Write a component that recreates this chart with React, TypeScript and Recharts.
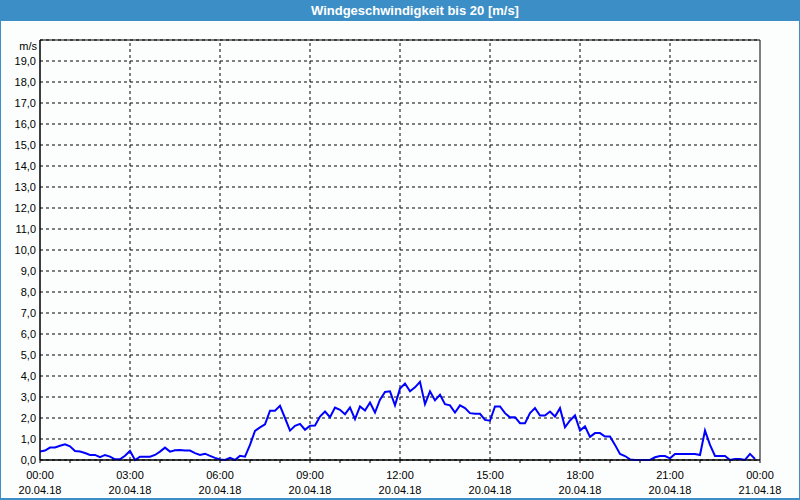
import { LineChart, Line, XAxis, YAxis, CartesianGrid, ReferenceLine, ReferenceArea } from 'recharts'

// wind speed in m/s, one value every 10 minutes from 20.04.18 00:00
const speeds = [
  0.4, 0.45, 0.59, 0.6, 0.68, 0.75, 0.65, 0.43, 0.4, 0.33, 0.24, 0.24,
  0.13, 0.24, 0.16, 0.03, 0.03, 0.2, 0.43, 0, 0.16, 0.16, 0.16, 0.24,
  0.4, 0.59, 0.4, 0.46, 0.48, 0.45, 0.45, 0.33, 0.24, 0.3, 0.2, 0.1,
  0.03, 0, 0.1, 0, 0.2, 0.16, 0.72, 1.39, 1.55, 1.7, 2.35, 2.35,
  2.58, 2.0, 1.4, 1.63, 1.72, 1.44, 1.63, 1.64, 2.07, 2.31, 2.04, 2.5,
  2.39, 2.18, 2.5, 1.95, 2.55, 2.36, 2.74, 2.26, 2.87, 3.24, 3.27, 2.6,
  3.4, 3.64, 3.27, 3.46, 3.72, 2.66, 3.27, 2.84, 3.11, 2.66, 2.6, 2.26,
  2.6, 2.47, 2.23, 2.2, 2.2, 1.91, 1.87, 2.55, 2.55, 2.23, 2.03, 2.04,
  1.75, 1.75, 2.23, 2.47, 2.12, 2.12, 2.31, 2.07, 2.47, 1.56, 1.88, 2.12,
  1.4, 1.6, 1.1, 1.28, 1.28, 1.12, 1.12, 0.72, 0.29, 0.19, 0.03, 0,
  0, 0, 0, 0.13, 0.19, 0.19, 0.08, 0.29, 0.29, 0.29, 0.29, 0.29,
  0.24, 1.4, 0.72, 0.19, 0.19, 0.19, 0, 0.05, 0.05, 0, 0.29, 0.05,
]
const STEP_MINUTES = 10

const hourTicks = [0, 60, 120, 180, 240, 300, 360, 420, 480, 540, 600, 660, 720, 780, 840, 900, 960, 1020, 1080, 1140, 1200, 1260, 1320, 1380, 1440]
const gridMinutes = [180, 360, 540, 720, 900, 1080, 1260]
const tickTimes: Record<number, string> = {
  0: '00:00', 180: '03:00', 360: '06:00', 540: '09:00', 720: '12:00',
  900: '15:00', 1080: '18:00', 1260: '21:00', 1440: '00:00',
}
const tickDates: Record<number, string> = {
  0: '20.04.18', 180: '20.04.18', 360: '20.04.18', 540: '20.04.18', 720: '20.04.18',
  900: '20.04.18', 1080: '20.04.18', 1260: '20.04.18', 1440: '21.04.18',
}
const yTicks = [0, 1, 2, 3, 4, 5, 6, 7, 8, 9, 10, 11, 12, 13, 14, 15, 16, 17, 18, 19]

const data = speeds.map((v, i) => ({ min: i * STEP_MINUTES, v }))

const FONT = '"Liberation Sans", Arial, sans-serif'
const BLUE = '#3c8fc6'

function TimeTick({ x, y, payload }: any) {
  const t = tickTimes[payload.value]
  if (!t) return null
  return (
    <g>
      <text x={x} y={y + 16} textAnchor="middle" fontSize={11} fontFamily={FONT} fill="#000">{t}</text>
      <text x={x} y={y + 31} textAnchor="middle" fontSize={11} fontFamily={FONT} fill="#000">{tickDates[payload.value]}</text>
    </g>
  )
}

export default function App() {
  return (
    <div style={{ position: 'absolute', left: 0, top: 0, width: 800, height: 500, background: '#fcfefd', overflow: 'hidden' }}>
      <LineChart width={800} height={500} data={data} margin={{ top: 40, right: 40, left: 0, bottom: 0 }}>
        <CartesianGrid vertical={false} stroke="#000" strokeDasharray="3 3" />
        {gridMinutes.map((m) => (
          <ReferenceLine key={m} x={m} stroke="#000" strokeDasharray="3 3" />
        ))}
        <ReferenceArea x1={0} x2={1440} y1={0} y2={20} fill="none" stroke="#000" strokeWidth={1} />
        <XAxis
          type="number"
          dataKey="min"
          domain={[0, 1440]}
          ticks={hourTicks}
          interval={0}
          height={40}
          tickSize={3}
          tickMargin={0}
          axisLine={{ stroke: '#000' }}
          tickLine={{ stroke: '#000' }}
          tick={<TimeTick />}
        />
        <YAxis
          type="number"
          domain={[0, 20]}
          ticks={yTicks}
          interval={0}
          width={40}
          tickSize={0}
          tickMargin={4}
          axisLine={{ stroke: '#000' }}
          tickLine={false}
          tick={{ fontSize: 11, fontFamily: FONT, fill: '#000' }}
          tickFormatter={(v: number) => v.toFixed(1).replace('.', ',')}
        />
        <Line type="linear" dataKey="v" stroke="#0000ff" strokeWidth={2} dot={false} isAnimationActive={false} />
      </LineChart>
      <div style={{ position: 'absolute', top: 40, left: 0, width: 37, textAlign: 'right', fontFamily: FONT, fontSize: 11, lineHeight: '13px', color: '#000' }}>
        m/s
      </div>
      <div style={{ position: 'absolute', top: 0, left: 0, width: 800, height: 21, background: BLUE, color: '#fff', fontFamily: FONT, fontWeight: 'bold', fontSize: 13, lineHeight: '21px', textAlign: 'center', paddingLeft: 30, boxSizing: 'border-box' }}>
        Windgeschwindigkeit bis 20 [m/s]
      </div>
      <div style={{ position: 'absolute', left: 0, top: 0, width: 800, height: 500, boxSizing: 'border-box', borderLeft: `1px solid ${BLUE}`, borderRight: `1px solid ${BLUE}`, borderBottom: `2px solid ${BLUE}`, pointerEvents: 'none' }} />
    </div>
  )
}
